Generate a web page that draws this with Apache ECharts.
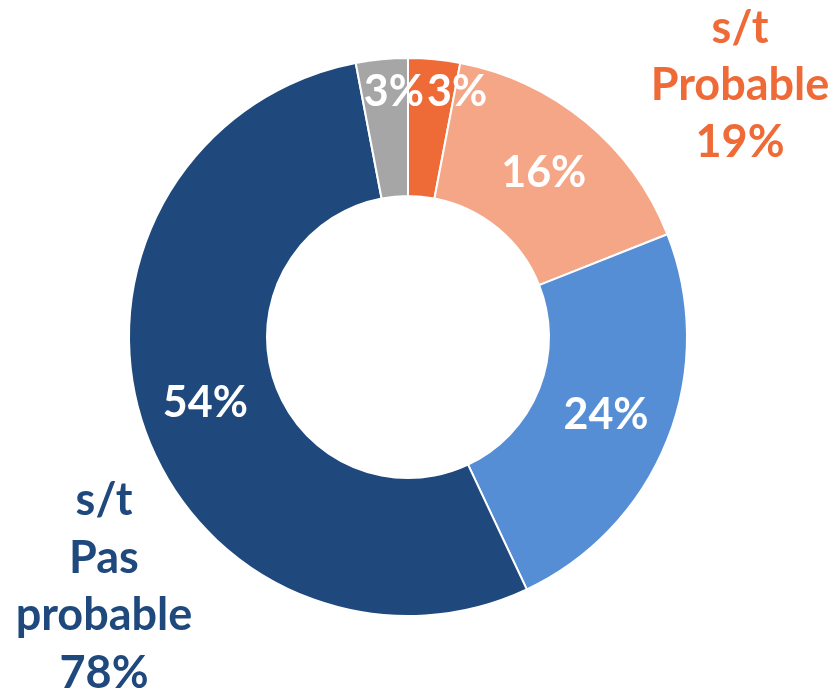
<!DOCTYPE html>
<html>
<head>
<meta charset="utf-8">
<script src="https://cdn.jsdelivr.net/npm/echarts@6/dist/echarts.min.js"></script>
<style>
html,body{margin:0;padding:0;background:#fff;}
#chart{width:833px;height:694px;}
</style>
</head>
<body>
<div id="chart"></div>
<script>
// Data
var categories = ['Probable A', 'Probable B', 'Pas probable A', 'Pas probable B', 'Autre'];
var values = [3, 16, 24, 54, 3];
var colors = ['#EE6A37', '#F5A687', '#558ED5', '#1F497D', '#A6A6A6'];
var groupProbable = ['s/t', 'Probable', '19%'];
var groupPasProbable = ['s/t', 'Pas', 'probable', '78%'];

var labelShift = {
  0: [29, -33],
  4: [6, -33]
};

var chart = echarts.init(document.getElementById('chart'), null, {renderer: 'canvas'});
chart.setOption({
  backgroundColor: '#ffffff',
  animation: false,
  series: [{
    type: 'pie',
    center: [408, 337],
    radius: [141, 279],
    startAngle: 90,
    clockwise: true,
    avoidLabelOverlap: false,
    itemStyle: {borderColor: '#ffffff', borderWidth: 2},
    label: {
      show: true,
      position: 'inside',
      formatter: function (p) { return p.value + '%'; },
      color: '#ffffff',
      fontFamily: 'Lato',
      fontWeight: 'bold',
      fontSize: 43
    },
    labelLine: {show: false},
    labelLayout: function (params) {
      var s = labelShift[params.dataIndex];
      if (s) { return {dx: s[0], dy: s[1]}; }
      return {};
    },
    emphasis: {disabled: true},
    data: categories.map(function (c, i) {
      return {name: c, value: values[i], itemStyle: {color: colors[i]}};
    })
  }],
  graphic: [
    {
      type: 'text',
      x: 740,
      y: 85,
      style: {
        text: groupProbable.join('\n'),
        fill: '#EE6A37',
        font: 'bold 45px Lato',
        lineHeight: 57,
        align: 'center',
        verticalAlign: 'middle'
      }
    },
    {
      type: 'text',
      x: 104,
      y: 587,
      style: {
        text: groupPasProbable.join('\n'),
        fill: '#1F497D',
        font: 'bold 45px Lato',
        lineHeight: 57.5,
        align: 'center',
        verticalAlign: 'middle'
      }
    }
  ]
});
</script>
</body>
</html>
